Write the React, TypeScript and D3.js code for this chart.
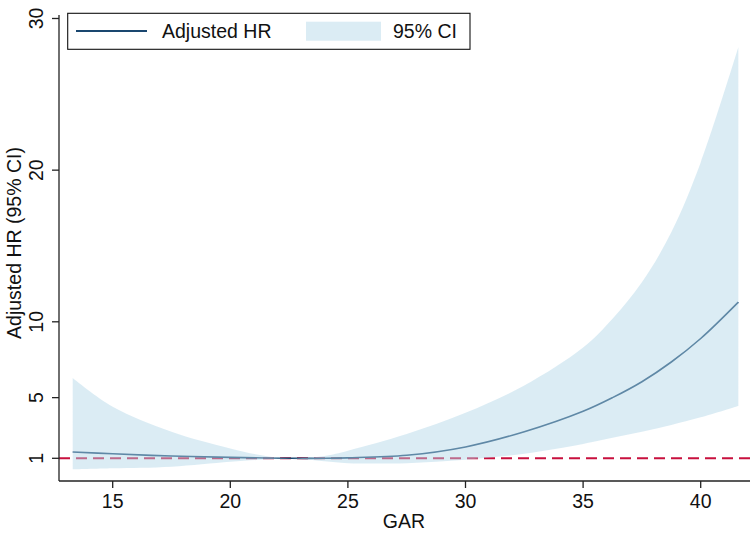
import React from 'react';
import * as d3 from 'd3';

const gar = [13.3, 15, 17.5, 20, 21.5, 22.6, 24, 25, 27.5, 30, 32.5, 35, 36.25, 37.5, 38.75, 40, 41.6];
const hr = [1.42, 1.3, 1.15, 1.06, 1.02, 1.0, 1.0, 1.03, 1.2, 1.75, 2.75, 4.1, 5.0, 6.05, 7.35, 8.9, 11.3];
const upper = [6.3, 4.4, 2.75, 1.65, 1.15, 1.0, 1.15, 1.5, 2.6, 4.0, 5.8, 8.3, 10.2, 12.6, 15.9, 20.5, 28.1];
const lower = [0.27, 0.34, 0.45, 0.77, 0.92, 1.0, 0.8, 0.68, 0.68, 0.9, 1.3, 1.95, 2.35, 2.75, 3.2, 3.7, 4.45];

const xTicks = [15, 20, 25, 30, 35, 40];
const yTicks = [1, 5, 10, 20, 30];
const refValue = 1;

const W = 756;
const H = 535;
const font = "'Liberation Sans', Arial, sans-serif";

const App = () => {
    const x = d3.scaleLinear().domain([12.717, 42.096]).range([59, 750]);
    const y = d3.scaleLinear().domain([-0.497, 30.23]).range([481, 15]);

    const rows = gar.map((g, i) => ({ g, hr: hr[i], lo: lower[i], hi: upper[i] }));
    const curve = d3.curveCatmullRom.alpha(0.5);

    const band = d3.area<any>()
        .x(d => x(d.g))
        .y0(d => y(d.lo))
        .y1(d => y(d.hi))
        .curve(curve);

    const line = d3.line<any>()
        .x(d => x(d.g))
        .y(d => y(d.hr))
        .curve(curve);

    const bandFill = 'rgb(177,214,231)';
    const bandOpacity = 0.46;

    return (
        <svg width={W} height={H} style={{ position: 'absolute', left: 0, top: 0, background: '#fff' }}
            fontFamily={font}>
            <rect width={W} height={H} fill="#fff" />

            {/* reference line at HR = 1 */}
            <line x1={x.range()[0]} x2={x.range()[1]} y1={y(refValue)} y2={y(refValue)}
                stroke="#c8103e" strokeWidth={2} strokeDasharray="11 6" />

            <path d={line(rows) ?? ''} fill="none" stroke="#1a476f" strokeWidth={1.6} />
            <path d={band(rows) ?? ''} fill={bandFill} fillOpacity={bandOpacity} />

            {/* axes */}
            <line x1={59} x2={59} y1={15} y2={481} stroke="#222" strokeWidth={1.3} />
            <line x1={59} x2={750} y1={481} y2={481} stroke="#222" strokeWidth={1.3} />

            {xTicks.map(t => (
                <g key={t} transform={`translate(${x(t)},481)`}>
                    <line y2={7} stroke="#222" strokeWidth={1.3} />
                    <text y={27} textAnchor="middle" fontSize={19.5} fill="#111">{t}</text>
                </g>
            ))}
            {yTicks.map(t => (
                <g key={t} transform={`translate(59,${y(t)})`}>
                    <line x2={-7} stroke="#222" strokeWidth={1.3} />
                    <text transform="translate(-16,0) rotate(-90)" textAnchor="middle" fontSize={19.5} fill="#111">{t}</text>
                </g>
            ))}

            <text x={404} y={528} textAnchor="middle" fontSize={19.5} fill="#111">GAR</text>
            <text transform="translate(21,243) rotate(-90)" textAnchor="middle" fontSize={19.5} fill="#111">
                Adjusted HR (95% CI)
            </text>

            {/* legend */}
            <rect x={67.7} y={13.3} width={402.3} height={36} fill="#fff" stroke="#111" strokeWidth={1.1} />
            <line x1={76} x2={147} y1={31} y2={31} stroke="#1a476f" strokeWidth={2} />
            <text x={162} y={38} fontSize={19.5} fill="#111">Adjusted HR</text>
            <rect x={306} y={21.7} width={75} height={19} fill={bandFill} fillOpacity={bandOpacity} />
            <text x={393} y={38} fontSize={19.5} fill="#111">95% CI</text>
        </svg>
    );
};

export default App;
